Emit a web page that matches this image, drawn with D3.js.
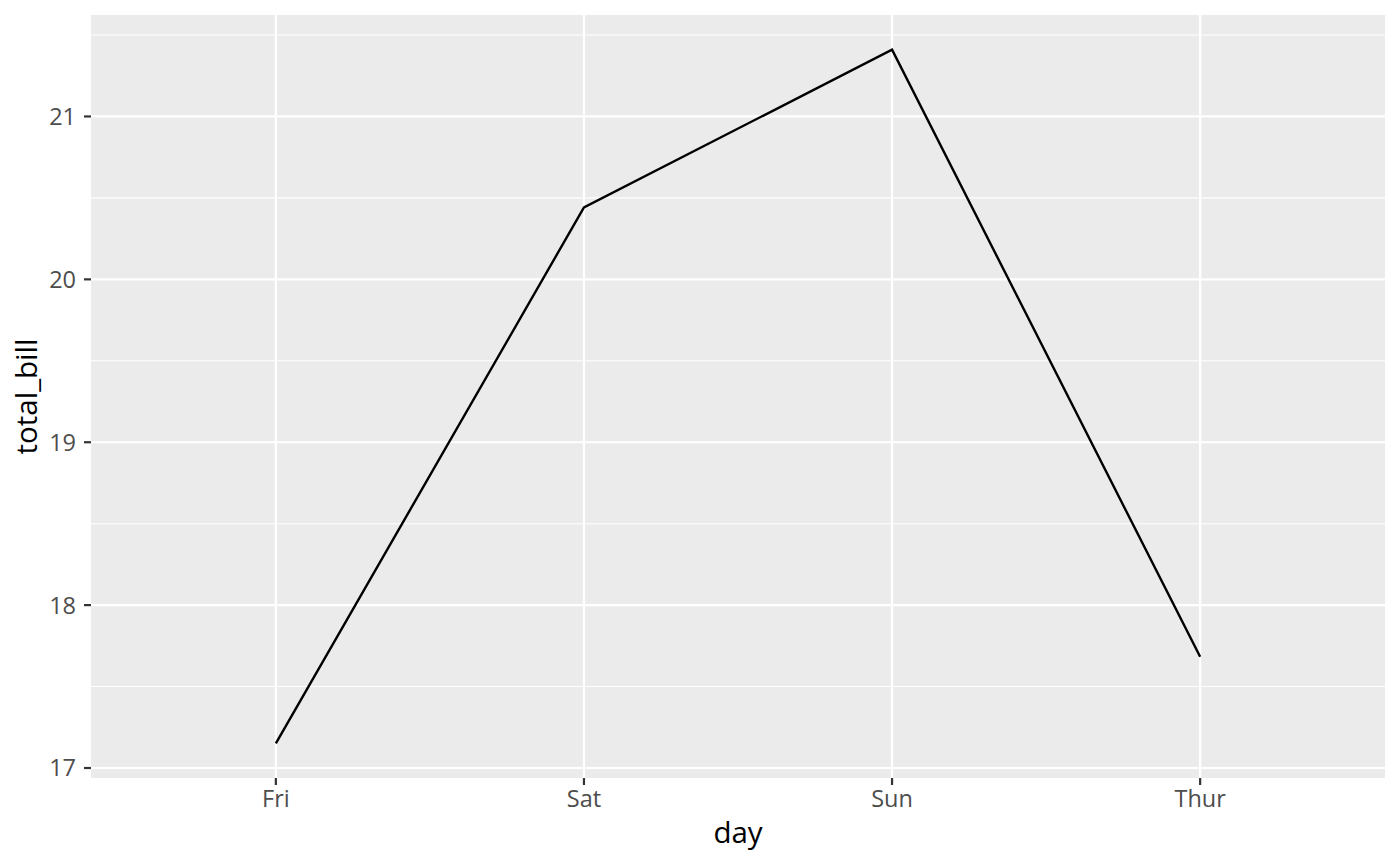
<!DOCTYPE html>
<html><head><meta charset="utf-8">
<script src="https://cdn.jsdelivr.net/npm/d3@7"></script>
<style>body{margin:0;background:#fff}svg{display:block}text{font-family:"Open Sans","Noto Sans",sans-serif}</style>
</head><body><svg id="c" width="1400" height="866"></svg>
<script>
const days = ["Fri","Sat","Sun","Thur"];
const totalBill = [17.151579, 20.441379, 21.41, 17.682742];
const yTicks = [17,18,19,20,21];
const yMinor = [17.5,18.5,19.5,20.5,21.5];

const W=1400,H=866;
const m={l:91,r:15,t:15,b:88};
const pw=W-m.l-m.r, ph=H-m.t-m.b;
const svg=d3.select("#c");
const g=svg.append("g").attr("transform",`translate(${m.l},${m.t})`);

const ymin=d3.min(totalBill), ymax=d3.max(totalBill), ex=(ymax-ymin)*0.05;
const y=d3.scaleLinear().domain([ymin-ex,ymax+ex]).range([ph,0]);
const xi=d3.scaleLinear().domain([1-0.6,days.length+0.6]).range([0,pw]);
const x=d=>xi(days.indexOf(d)+1);

g.append("rect").attr("width",pw).attr("height",ph).attr("fill","#ebebeb");
g.selectAll(".ymn").data(yMinor.filter(v=>v>=y.domain()[0]&&v<=y.domain()[1])).join("line")
 .attr("x1",0).attr("x2",pw).attr("y1",d=>y(d)).attr("y2",d=>y(d)).attr("stroke","#fff").attr("stroke-width",1.1);
g.selectAll(".ymj").data(yTicks).join("line")
 .attr("x1",0).attr("x2",pw).attr("y1",d=>y(d)).attr("y2",d=>y(d)).attr("stroke","#fff").attr("stroke-width",2.2);
g.selectAll(".xmj").data(days).join("line")
 .attr("y1",0).attr("y2",ph).attr("x1",d=>x(d)).attr("x2",d=>x(d)).attr("stroke","#fff").attr("stroke-width",2.2);

const line=d3.line().x((d,i)=>x(days[i])).y(d=>y(d));
g.append("path").datum(totalBill).attr("d",line).attr("fill","none").attr("stroke","#000").attr("stroke-width",2.4);

// y axis
g.selectAll(".yt").data(yTicks).join("line")
 .attr("x1",-7).attr("x2",0).attr("y1",d=>y(d)).attr("y2",d=>y(d)).attr("stroke","#333").attr("stroke-width",2.2);
g.selectAll(".yl").data(yTicks).join("text")
 .attr("x",-15).attr("y",d=>y(d)).attr("dy","0.36em").attr("text-anchor","end")
 .style("font-size","23.5px").attr("fill","#4d4d4d").text(d=>d);
// x axis
g.selectAll(".xt").data(days).join("line")
 .attr("x1",d=>x(d)).attr("x2",d=>x(d)).attr("y1",ph).attr("y2",ph+7).attr("stroke","#333").attr("stroke-width",2.2);
g.selectAll(".xl").data(days).join("text")
 .attr("x",d=>x(d)).attr("y",ph+29).attr("text-anchor","middle")
 .style("font-size","23.5px").attr("fill","#4d4d4d").text(d=>d);

svg.append("text").attr("x",m.l+pw/2).attr("y",H-23).attr("text-anchor","middle")
 .style("font-size","29.5px").attr("fill","#000").text("day");
svg.append("text").attr("transform",`translate(37,${m.t+ph/2}) rotate(-90)`).attr("text-anchor","middle")
 .style("font-size","29.5px").attr("fill","#000").text("total_bill");
</script></body></html>
